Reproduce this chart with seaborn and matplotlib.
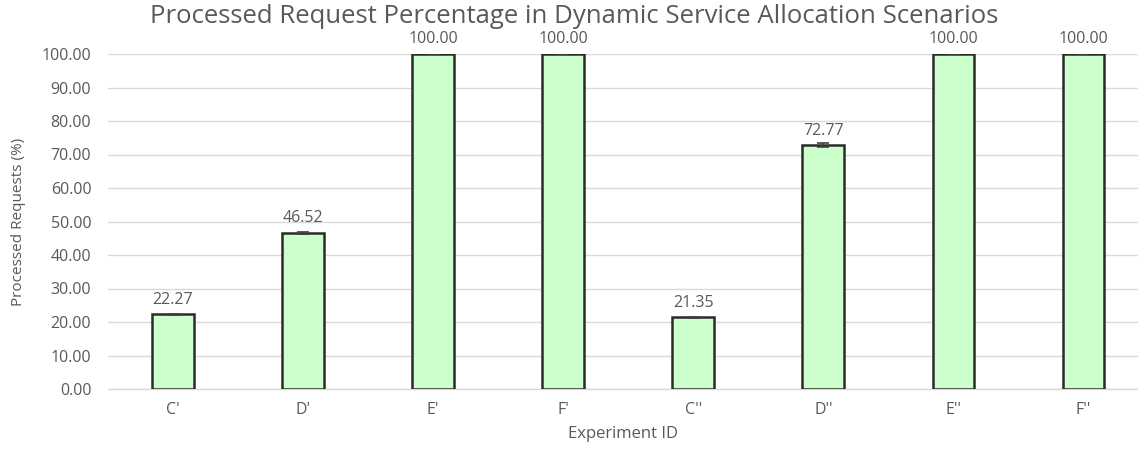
import matplotlib
matplotlib.use("Agg")
import matplotlib.pyplot as plt
import seaborn as sns
import pandas as pd

experiments = ["C'", "D'", "E'", "F'", "C''", "D''", "E''", "F''"]
processed = [22.27, 46.52, 100.00, 100.00, 21.35, 72.77, 100.00, 100.00]
errors = [0.25, 0.25, 0.0, 0.0, 0.25, 0.6, 0.0, 0.0]
yticks = [0, 10, 20, 30, 40, 50, 60, 70, 80, 90, 100]

sns.set_theme(style="white")
plt.rcParams["font.family"] = ["Open Sans", "DejaVu Sans"]

df = pd.DataFrame({"Experiment": experiments, "Processed": processed})

fig = plt.figure(figsize=(11.38, 4.49), dpi=100)
ax = fig.add_axes([108 / 1138, 60 / 449, 1 - 108 / 1138, 335 / 449])

sns.barplot(data=df, x="Experiment", y="Processed", ax=ax, color="#ccffcc",
            edgecolor="#2b2b2b", linewidth=1.8, width=0.32, saturation=1,
            errorbar=None, zorder=3)
ax.errorbar(range(len(experiments)), processed, yerr=errors, fmt="none",
            ecolor="#404040", elinewidth=1.2, capsize=4, capthick=1.2, zorder=4)

for i, v in enumerate(processed):
    ax.text(i, v + 2.0, f"{v:.2f}", ha="center", va="bottom",
            fontsize=11.5, color="#595959")

ax.set_xlim(-0.5, 7.42)
ax.set_ylim(0, 100)
ax.set_yticks(yticks)
ax.set_yticklabels([f"{t:.2f}" for t in yticks])
ax.yaxis.grid(True, color="#d9d9d9", linewidth=1.0, zorder=0)
ax.set_axisbelow(True)
for s in ["top", "right", "left"]:
    ax.spines[s].set_visible(False)
ax.spines["bottom"].set_color("#d9d9d9")
ax.spines["bottom"].set_linewidth(1.0)
ax.tick_params(axis="both", length=0, colors="#595959", labelsize=11.5)
ax.tick_params(axis="x", pad=9)
ax.tick_params(axis="y", pad=12)

ax.set_xlabel("Experiment ID", fontsize=12, color="#595959", labelpad=6)
ax.set_ylabel("Processed Requests (%)", fontsize=11, color="#595959",
              labelpad=11)
ax.set_title("Processed Request Percentage in Dynamic Service Allocation Scenarios",
             fontsize=18.5, color="#595959", pad=22, x=(574 - 108) / (1138 - 108))

fig.savefig("out.png", dpi=100, facecolor="white")
